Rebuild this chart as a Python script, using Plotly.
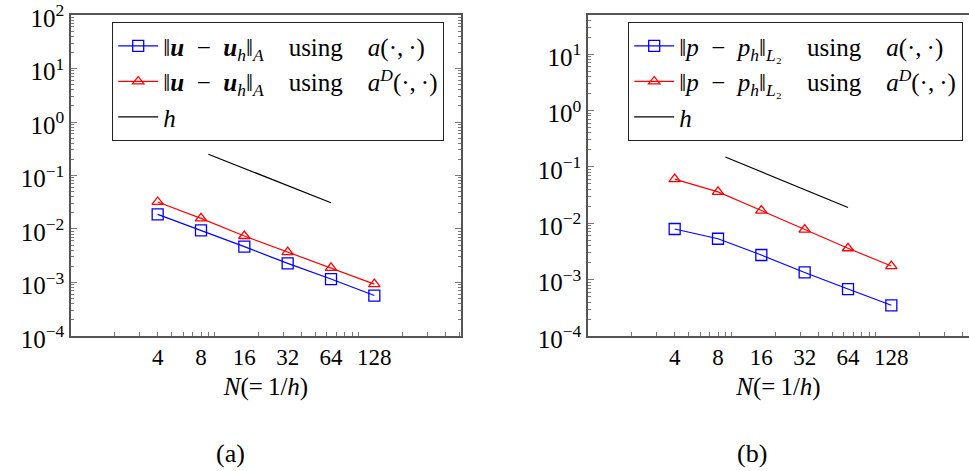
import math
import plotly.graph_objects as go

# ---------------- data ----------------
N = [4, 8, 16, 32, 64, 128]
err_u_a = [0.0188, 0.00945, 0.00467, 0.00228, 0.00116, 0.00057]
err_u_aD = [0.032, 0.0158, 0.0074, 0.0037, 0.00187, 0.00093]
err_p_a = [0.0079, 0.0053, 0.00273, 0.00134, 0.00068, 0.00035]
err_p_aD = [0.0607, 0.036, 0.0168, 0.0077, 0.0036, 0.00174]
h_N = [9, 64]
h_left = [0.25, 0.031]
h_right = [0.15, 0.019]

xtick_vals = [4, 8, 16, 32, 64, 128]
xtick_text = ["4", "8", "16", "32", "64", "128"]
x_minor_vals = [2, 3, 4, 5, 6, 7, 8, 9, 10, 20, 30, 40, 50, 60, 70, 80, 90, 100, 200, 300, 400, 500]
ytick_vals_left = [1e-4, 1e-3, 1e-2, 1e-1, 1e0, 1e1, 1e2]
ytick_text_left = ["10<sup>−4</sup>", "10<sup>−3</sup>", "10<sup>−2</sup>", "10<sup>−1</sup>",
                   "10<sup>0</sup>", "10<sup>1</sup>", "10<sup>2</sup>"]
ytick_vals_right = [1e-4, 1e-3, 1e-2, 1e-1, 1e0, 1e1]
ytick_text_right = ["10<sup>−4</sup>", "10<sup>−3</sup>", "10<sup>−2</sup>", "10<sup>−1</sup>",
                    "10<sup>0</sup>", "10<sup>1</sup>"]
y_minor_vals = [m * 10.0 ** e for e in range(-4, 2) for m in range(2, 10)]

THIN, EN, EM = "\u2009", "\u2002", "\u2003"
names_left = [
    f"‖<b><i>u</i></b>{EN}−{EN}<b><i>u</i></b><sub><i>h</i></sub>‖<sub><i>A</i></sub>{EM}using{EM}<i>a</i>(·,{THIN}·)",
    f"‖<b><i>u</i></b>{EN}−{EN}<b><i>u</i></b><sub><i>h</i></sub>‖<sub><i>A</i></sub>{EM}using{EM}<i>a</i><sup><i>D</i></sup>(·,{THIN}·)",
    "<i>h</i>",
]
names_right = [
    f"‖<i>p</i>{EN}−{EN}<i>p</i><sub><i>h</i></sub>‖<sub><i>L</i>₂</sub>{EM}using{EM}<i>a</i>(·,{THIN}·)",
    f"‖<i>p</i>{EN}−{EN}<i>p</i><sub><i>h</i></sub>‖<sub><i>L</i>₂</sub>{EM}using{EM}<i>a</i><sup><i>D</i></sup>(·,{THIN}·)",
    "<i>h</i>",
]
panel_labels = ["(a)", "(b)"]
x_title = "<i>N</i>(=\u20091/<i>h</i>)"

# ---------------- figure ----------------
W, H = 969, 471
FONT = "Liberation Serif, DejaVu Serif, Times New Roman, serif"
BLUE, RED = "#0000ff", "#ff0000"

fig = go.Figure()

def add_panel(xa, ya, leg, y1, y2, hy, names):
    fig.add_trace(go.Scatter(
        x=N, y=y1, mode="lines+markers", name=names[0], xaxis=xa, yaxis=ya, legend=leg,
        line=dict(color=BLUE, width=1.2),
        marker=dict(symbol="square-open", size=11, color=BLUE, line=dict(width=1.3, color=BLUE))))
    fig.add_trace(go.Scatter(
        x=N, y=y2, mode="lines+markers", name=names[1], xaxis=xa, yaxis=ya, legend=leg,
        line=dict(color=RED, width=1.2),
        marker=dict(symbol="triangle-up-open", size=10, color=RED, line=dict(width=1.3, color=RED))))
    fig.add_trace(go.Scatter(
        x=h_N, y=hy, mode="lines", name=names[2], xaxis=xa, yaxis=ya, legend=leg,
        line=dict(color="black", width=1.2)))

add_panel("x", "y", "legend", err_u_a, err_u_aD, h_left, names_left)
add_panel("x2", "y2", "legend2", err_p_a, err_p_aD, h_right, names_right)

y_dom = [1 - 336 / H, 1 - 15 / H]
AX_LINE = "#555555"
TICK_C = "#7a7a7a"

def xaxis_cfg(domain, rng, anchor):
    return dict(
        type="log", domain=domain, range=rng, anchor=anchor,
        tickmode="array", tickvals=xtick_vals, ticktext=xtick_text,
        ticks="", showgrid=False, zeroline=False,
        showline=True, linecolor=AX_LINE, linewidth=1.5, mirror=True,
        tickfont=dict(family=FONT, size=23, color="black"),
        ticklabeloverflow="allow",
        minor=dict(tickmode="array", tickvals=x_minor_vals, ticks="inside", ticklen=4,
                   tickcolor=TICK_C, tickwidth=1, showgrid=False),
        title=dict(text=x_title, font=dict(family=FONT, size=25, color="black"), standoff=8),
        automargin=False,
    )

def yaxis_cfg(rng, anchor, tv, tt, mirror):
    return dict(
        type="log", domain=y_dom, range=rng, anchor=anchor,
        tickmode="array", tickvals=tv, ticktext=tt,
        ticks="inside", ticklen=6, tickcolor=TICK_C, tickwidth=1,
        showgrid=False, zeroline=False,
        showline=True, linecolor=AX_LINE, linewidth=1.5, mirror=mirror,
        tickfont=dict(family=FONT, size=25, color="black"),
        ticklabeloverflow="allow", ticklabelshift=3,
        minor=dict(tickmode="array", tickvals=y_minor_vals, ticks="inside", ticklen=3,
                   tickcolor=TICK_C, tickwidth=1, showgrid=False),
        automargin=False,
    )

x_left0, x_right_end = 71, 461
x2_left0 = 588
px_per_dec = (x_right_end - x_left0) / math.log10(512)
x2_rng_end = (W - x2_left0) / px_per_dec

fig.update_layout(
    width=W, height=H,
    margin=dict(l=0, r=0, t=0, b=0),
    paper_bgcolor="white", plot_bgcolor="white",
    font=dict(family=FONT, color="black"),
    showlegend=True,
    xaxis=xaxis_cfg([x_left0 / W, x_right_end / W], [0, math.log10(512)], "y"),
    yaxis=yaxis_cfg([-4.0005, 2.0005], "x", ytick_vals_left, ytick_text_left, "allticks"),
    xaxis2=xaxis_cfg([x2_left0 / W, 1.0], [0, x2_rng_end], "y2"),
    yaxis2=yaxis_cfg([-4.0005, 1.694], "x2", ytick_vals_right, ytick_text_right, False),
    legend=dict(x=112 / W, y=1 - 22 / H, xanchor="left", yanchor="top",
                bgcolor="white", bordercolor="#222222", borderwidth=1.2,
                font=dict(family=FONT, size=25, color="black"),
                tracegroupgap=0, itemwidth=40),
    legend2=dict(x=628 / W, y=1 - 22 / H, xanchor="left", yanchor="top",
                 bgcolor="white", bordercolor="#222222", borderwidth=1.2,
                 font=dict(family=FONT, size=25, color="black"),
                 tracegroupgap=0, itemwidth=40),
    annotations=[
        dict(text=panel_labels[0], x=230 / W, y=1 - 453 / H, xref="paper", yref="paper",
             showarrow=False, xanchor="center", yanchor="middle",
             font=dict(family=FONT, size=26, color="black")),
        dict(text=panel_labels[1], x=752 / W, y=1 - 453 / H, xref="paper", yref="paper",
             showarrow=False, xanchor="center", yanchor="middle",
             font=dict(family=FONT, size=26, color="black")),
    ],
)

fig.write_html(
    "out.html",
    config={"displayModeBar": False},
    post_script="document.body.style.margin='0';document.body.style.padding='0';"
                "document.body.style.overflow='hidden';",
)
